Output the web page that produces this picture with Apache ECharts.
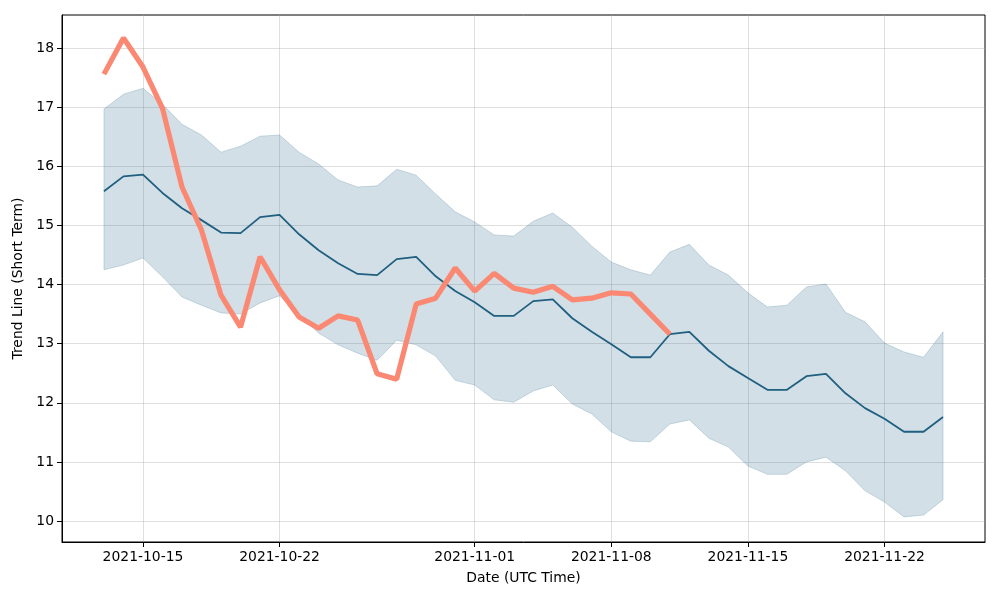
<!DOCTYPE html>
<html>
<head>
<meta charset="utf-8">
<script src="https://cdn.jsdelivr.net/npm/echarts@6/dist/echarts.min.js"></script>
<style>html,body{margin:0;padding:0;background:#fff}#c{width:1000px;height:600px}</style>
</head>
<body>
<div id="c"></div>
<script>
// Dates: daily from 2021-10-13 to 2021-11-25
const startDate = '2021-10-13';
const dayCount = 44;
const meanValues = [15.58,15.83,15.86,15.55,15.29,15.09,14.88,14.87,15.14,15.18,14.85,14.58,14.36,14.18,14.16,14.43,14.47,14.14,13.89,13.70,13.47,13.47,13.72,13.75,13.43,13.20,12.99,12.77,12.77,13.16,13.20,12.88,12.62,12.42,12.22,12.22,12.45,12.49,12.16,11.91,11.73,11.51,11.51,11.76];
const upperValues = [16.97,17.22,17.32,17.05,16.71,16.53,16.24,16.34,16.51,16.53,16.24,16.04,15.77,15.65,15.67,15.95,15.85,15.53,15.23,15.06,14.84,14.82,15.07,15.21,14.97,14.65,14.38,14.25,14.16,14.55,14.68,14.33,14.16,13.86,13.62,13.65,13.96,14.01,13.53,13.37,13.01,12.86,12.77,13.20];
const lowerValues = [14.25,14.33,14.45,14.13,13.79,13.65,13.52,13.50,13.69,13.81,13.48,13.18,12.98,12.84,12.72,13.06,12.98,12.79,12.38,12.30,12.05,12.01,12.20,12.30,11.98,11.81,11.51,11.35,11.34,11.64,11.71,11.40,11.25,10.93,10.79,10.79,11.00,11.08,10.85,10.51,10.32,10.07,10.10,10.36];
const actualValues = [17.56,18.17,17.68,16.98,15.65,14.92,13.82,13.28,14.47,13.91,13.45,13.26,13.47,13.40,12.49,12.40,13.67,13.77,14.28,13.89,14.19,13.94,13.87,13.97,13.74,13.77,13.86,13.84,13.50,13.16];
const xTickLabels = ['2021-10-15','2021-10-22','2021-11-01','2021-11-08','2021-11-15','2021-11-22'];
const yTickValues = [10,11,12,13,14,15,16,17,18];

const DAY = 86400000;
const t0 = Date.parse(startDate + 'T00:00:00Z');
const dates = [];
for (let i = 0; i < dayCount; i++) dates.push(t0 + i * DAY);
const xTicks = xTickLabels.map(s => Date.parse(s + 'T00:00:00Z'));
const pad = (dayCount - 1) * 0.05 * DAY;

function pairs(vals) { return vals.map((v, i) => [dates[i], v]); }
function fmtDate(v) {
  const d = new Date(v);
  const m = String(d.getUTCMonth() + 1).padStart(2, '0');
  const dd = String(d.getUTCDate()).padStart(2, '0');
  return d.getUTCFullYear() + '-' + m + '-' + dd;
}
const bandColor = '#1f5f80';
const font = 'DejaVu Sans';
const bandData = dates.map((d, i) => [d, lowerValues[i], upperValues[i]]);

const chart = echarts.init(document.getElementById('c'), null, {renderer: 'canvas'});
chart.setOption({
  animation: false,
  grid: {left: 62, right: 15, top: 15, bottom: 58, show: true, borderColor: '#000', borderWidth: 1, backgroundColor: 'transparent'},
  xAxis: {
    type: 'value',
    min: t0 - pad,
    max: dates[dayCount - 1] + pad,
    name: 'Date (UTC Time)',
    nameLocation: 'middle',
    nameGap: 29,
    nameTextStyle: {fontFamily: font, fontSize: 13.9, color: '#000'},
    axisLine: {show: true, lineStyle: {color: '#000', width: 1}},
    axisTick: {show: true, customValues: xTicks, length: 5, lineStyle: {color: '#000'}},
    axisLabel: {customValues: xTicks, formatter: v => fmtDate(v), fontFamily: font, fontSize: 13.9, color: '#000', margin: 8},
    splitLine: {show: true, lineStyle: {color: '#b0b0b0', opacity: 0.4, width: 1}}
  },
  yAxis: {
    type: 'value',
    min: 9.645,
    max: 18.56,
    name: 'Trend Line (Short Term)',
    nameLocation: 'middle',
    nameGap: 28,
    nameTextStyle: {fontFamily: font, fontSize: 13.9, color: '#000'},
    axisLine: {show: true, lineStyle: {color: '#000', width: 1}},
    axisTick: {show: true, customValues: yTickValues, length: 5, lineStyle: {color: '#000'}},
    axisLabel: {customValues: yTickValues, formatter: v => String(v), fontFamily: font, fontSize: 13.9, color: '#000', margin: 8},
    splitLine: {show: true, lineStyle: {color: '#b0b0b0', opacity: 0.4, width: 1}}
  },
  series: [
    {
      type: 'custom',
      data: bandData,
      encode: {x: 0, y: [1, 2]},
      silent: true,
      z: 1,
      clip: true,
      renderItem: function (params, api) {
        if (params.dataIndex !== 0) return null;
        const upperPts = bandData.map(r => api.coord([r[0], r[2]]));
        const lowerPts = bandData.map(r => api.coord([r[0], r[1]])).reverse();
        return {
          type: 'polygon',
          shape: {points: upperPts.concat(lowerPts)},
          style: {fill: bandColor, opacity: 0.2, stroke: bandColor, lineWidth: 1, strokeOpacity: 1}
        };
      }
    },
    {type: 'line', data: pairs(meanValues), symbol: 'none', lineStyle: {color: bandColor, width: 1.8}, z: 3},
    {type: 'line', data: pairs(actualValues), symbol: 'none', lineStyle: {color: '#fa8872', width: 5.2}, z: 4}
  ]
});
</script>
</body>
</html>
